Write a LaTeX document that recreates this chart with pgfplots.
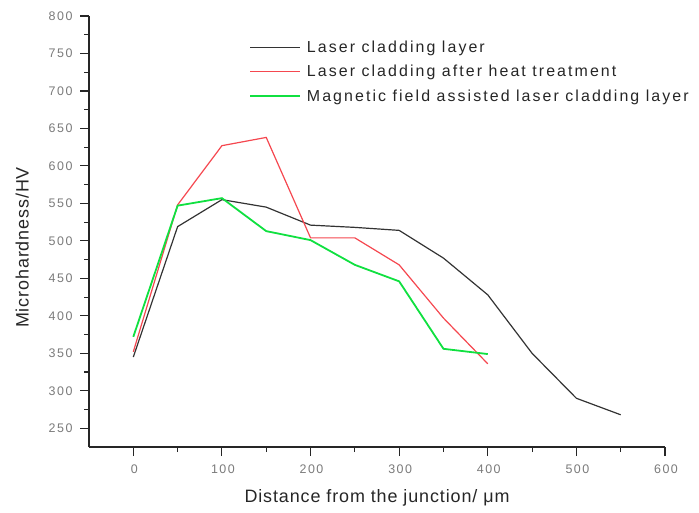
\documentclass[border=0pt]{standalone}
\usepackage{fontspec}
\setmainfont{Liberation Sans}
\newfontfamily\tickfont[LetterSpace=12]{Liberation Sans}
\newfontfamily\labelfont[LetterSpace=5]{Liberation Sans}
\newfontfamily\legfont[LetterSpace=13]{Liberation Sans}
\usepackage{pgfplots}
\pgfplotsset{compat=1.18}
\definecolor{lcblack}{HTML}{333333}
\definecolor{lcred}{HTML}{F5474F}
\definecolor{lcgreen}{HTML}{10E040}
\definecolor{ticktext}{HTML}{7A7A7A}
\begin{document}
\begin{tikzpicture}
\begin{axis}[
  width=576bp, height=431bp, scale only axis,
  xmin=-50, xmax=600, ymin=225, ymax=800,
  axis lines*=left, axis line style={black!85, line width=1.1bp},
  xtick={0,100,...,600}, ytick={250,300,...,800},
  minor x tick num=1, minor y tick num=1,
  tick align=outside,
  major tick length=9bp, minor tick length=5bp,
  tick style={black!85, line width=1.1bp},
  /pgf/number format/assume math mode=true,
  tick label style={font=\tickfont\fontsize{12.5}{14}\selectfont, text=ticktext},
  xticklabel style={yshift=-5bp, xshift=1bp},
  yticklabel style={xshift=-4bp},
  xlabel={Distance from the junction/ μm},
  ylabel={Microhardness/HV},
  label style={font=\labelfont\fontsize{18}{20}\selectfont, text=black!85},
  xlabel style={yshift=-9bp},
  ylabel style={yshift=13bp, xshift=-16bp},
  clip=false,
  legend style={draw=none, fill=none, at={(rel axis cs:0.2725,0.952)}, anchor=north west,
    font=\legfont\fontsize{16}{18}\selectfont, text=black!85, row sep=7.3bp,
    column sep=4bp, cells={anchor=west}},
  legend image code/.code={\draw[#1] (0bp,0bp) -- (50bp,0bp);},
]
\addplot[lcblack, line width=1.2bp] coordinates {
  (0,345) (50,519) (100,555) (150,545) (200,521) (250,518) (300,514)
  (350,477) (400,428) (450,350) (500,290) (550,268)};
\addlegendentry{Laser cladding layer}
\addplot[lcred, line width=1.2bp] coordinates {
  (0,352) (50,548) (100,627) (150,638) (200,504) (250,504) (300,468)
  (350,397) (400,336)};
\addlegendentry{Laser cladding after heat treatment}
\addplot[lcgreen, line width=1.8bp] coordinates {
  (0,372) (50,547) (100,557) (150,513) (200,501) (250,468) (300,446)
  (350,356) (400,349)};
\addlegendentry{Magnetic field assisted laser cladding layer}
\path ([xshift=-89bp,yshift=-65bp]rel axis cs:0,0) rectangle ([xshift=34bp,yshift=16bp]rel axis cs:1,1);
\end{axis}
\end{tikzpicture}
\end{document}
